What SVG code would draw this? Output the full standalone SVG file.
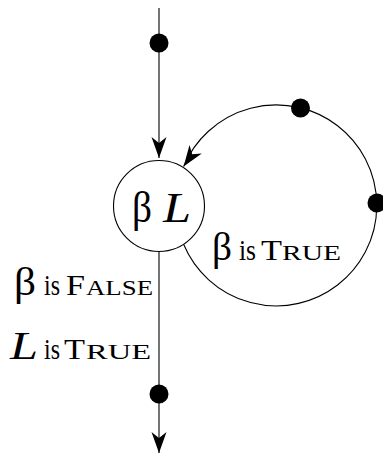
<svg xmlns="http://www.w3.org/2000/svg" width="383" height="455" viewBox="0 0 383 455">
<style>
.ln{fill:none;stroke:#000;stroke-width:1.1}
.dot{fill:#000}
.t{font-family:"Liberation Serif","Times New Roman",serif;fill:#000}
.it{font-style:italic}
.b{font-size:40px}
.n{font-size:29px}
.s{font-size:22px}
</style>
<defs>
<marker id="ah" viewBox="-22 -8 23 16" refX="0" refY="0" markerWidth="23" markerHeight="16" markerUnits="userSpaceOnUse" orient="auto">
<path d="M0,0 L-21,-7.5 L-15,0 L-21,7.5 Z" fill="#000"/>
</marker>
<marker id="ah2" viewBox="-22 -8 23 16" refX="0" refY="0" markerWidth="23" markerHeight="16" markerUnits="userSpaceOnUse" orient="125">
<path d="M0,0 L-21,-7.5 L-15,0 L-21,7.5 Z" fill="#000"/>
</marker>
</defs>
<g id="connectors">
<path class="ln" d="M159,8 L159,158" marker-end="url(#ah)"/>
<path class="ln" d="M183.6,244.3 A100.5,100.5 0 1 0 183.6,166.5" marker-end="url(#ah2)"/>
<path class="ln" d="M159,251.5 L159,453" marker-end="url(#ah)"/>
<circle class="dot" cx="159" cy="43" r="9.5"/>
<circle class="dot" cx="300.5" cy="108" r="9.5"/>
<circle class="dot" cx="377" cy="203" r="9.5"/>
<circle class="dot" cx="159" cy="394" r="9.5"/>
</g>
<g id="state">
<circle class="ln" cx="159" cy="206" r="45.5" fill="#fff"/>
<text class="t" x="132" y="222" font-size="44" textLength="20" lengthAdjust="spacingAndGlyphs">β</text>
<text class="t it" x="163" y="222" font-size="42" textLength="28" lengthAdjust="spacingAndGlyphs">L</text>
</g>
<g id="label-false">
<text class="t b" x="14" y="295" textLength="22" lengthAdjust="spacingAndGlyphs">β</text>
<text class="t n" x="44" y="295" textLength="16" lengthAdjust="spacingAndGlyphs">is</text>
<text class="t n" x="66" y="295" textLength="19" lengthAdjust="spacingAndGlyphs">F</text>
<text class="t s" x="86" y="295" textLength="67" lengthAdjust="spacingAndGlyphs">ALSE</text>
</g>
<g id="label-true-L">
<text class="t b it" x="10" y="359" textLength="28" lengthAdjust="spacingAndGlyphs">L</text>
<text class="t n" x="44" y="359" textLength="16" lengthAdjust="spacingAndGlyphs">is</text>
<text class="t n" x="64" y="359" textLength="21" lengthAdjust="spacingAndGlyphs">T</text>
<text class="t s" x="86" y="359" textLength="65" lengthAdjust="spacingAndGlyphs">RUE</text>
</g>
<g id="label-true-beta">
<text class="t b" x="212" y="260" textLength="20" lengthAdjust="spacingAndGlyphs">β</text>
<text class="t n" x="239" y="260" textLength="17" lengthAdjust="spacingAndGlyphs">is</text>
<text class="t n" x="261" y="260" textLength="21" lengthAdjust="spacingAndGlyphs">T</text>
<text class="t s" x="282" y="260" textLength="59" lengthAdjust="spacingAndGlyphs">RUE</text>
</g>
</svg>
